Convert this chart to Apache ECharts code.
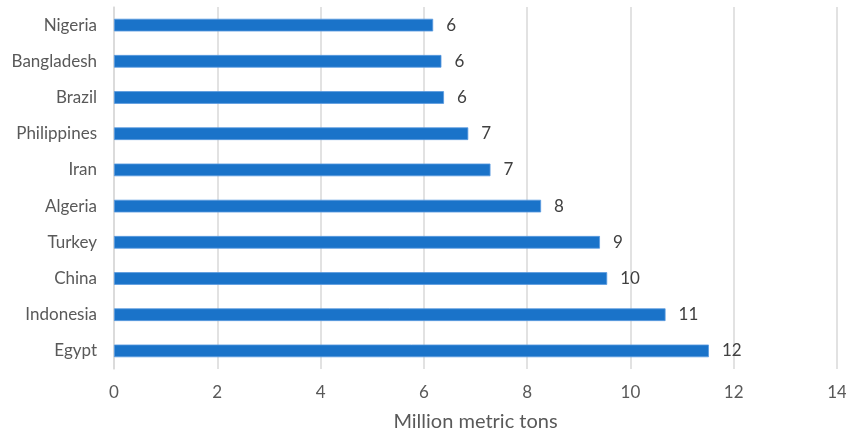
<!DOCTYPE html>
<html><head><meta charset="utf-8">
<script src="https://cdn.jsdelivr.net/npm/echarts@6/dist/echarts.min.js"></script>
<style>html,body{margin:0;padding:0;background:#fff}#c{width:846px;height:430px}</style>
</head><body><div id="c"></div>
<script>
var categories = ["Egypt","Indonesia","China","Turkey","Algeria","Iran","Philippines","Brazil","Bangladesh","Nigeria"];
var values = [11.52, 10.68, 9.55, 9.41, 8.27, 7.29, 6.86, 6.39, 6.34, 6.18];
var axisName = "Million metric tons";
var FONT = "Lato";
var chart = echarts.init(document.getElementById('c'));
chart.setOption({
  animation: false,
  grid: {left: 114, right: 9, top: 7, bottom: 61, containLabel: false, outerBoundsMode: 'none'},
  xAxis: {
    type: 'value', min: 0, max: 14, interval: 2,
    name: axisName, nameLocation: 'middle', nameGap: 43,
    nameTextStyle: {fontFamily: FONT, fontSize: 20, color: '#595959'},
    axisLine: {show: false}, axisTick: {show: false},
    axisLabel: {fontFamily: FONT, fontSize: 17, color: '#595959', margin: 15},
    splitLine: {show: true, lineStyle: {color: '#d9d9d9', width: 1.5}}
  },
  yAxis: {
    type: 'category', data: categories,
    axisLine: {show: true, lineStyle: {color: '#d9d9d9', width: 1.5}},
    axisTick: {show: false},
    axisLabel: {fontFamily: FONT, fontSize: 17, color: '#595959', margin: 17}
  },
  series: [{
    type: 'bar', data: values, barWidth: '35%',
    itemStyle: {color: '#1a73c9', borderColor: '#5a9be0', borderWidth: 0.8},
    label: {show: true, position: 'right', distance: 13, fontFamily: FONT, fontSize: 17, color: '#404040',
      formatter: function(p){ return Math.round(p.value); }}
  }]
});
</script></body></html>
